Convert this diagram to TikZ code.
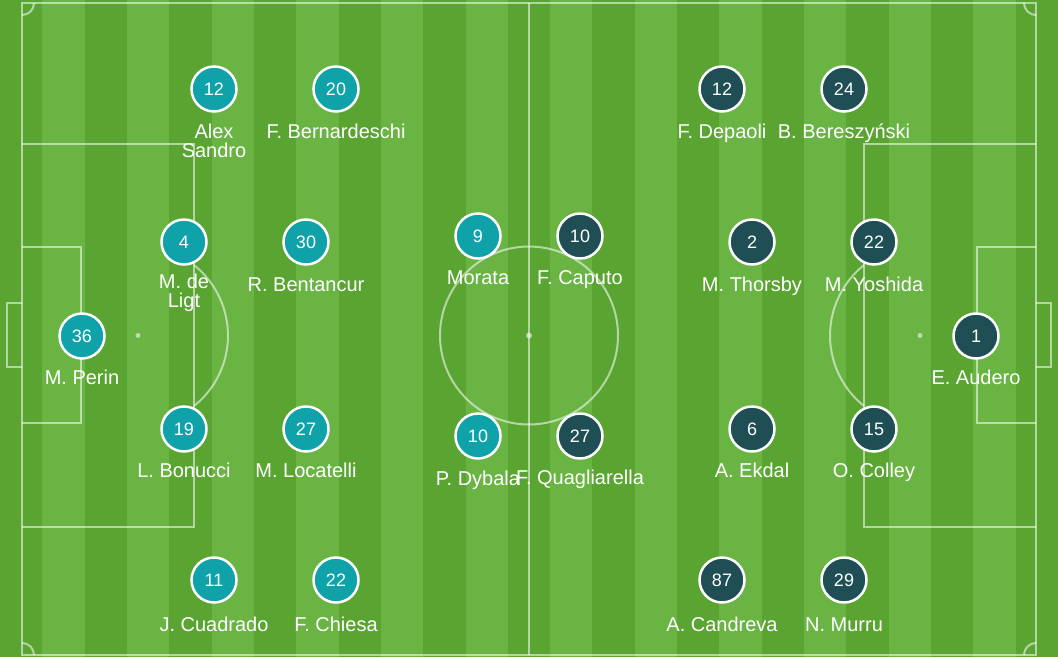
\documentclass[tikz,border=0pt]{standalone}
\usepackage{fontspec}
\setmainfont{Liberation Sans}
\definecolor{grassdark}{HTML}{5AA532}
\definecolor{grasslight}{HTML}{6AB443}
\definecolor{juvecol}{HTML}{0FA2A9}
\definecolor{sampcol}{HTML}{1F4F55}
\tikzset{
  pitchline/.style={draw=white, draw opacity=0.55, line width=2pt},
  spot/.style={fill=white, fill opacity=0.55},
  player/.style={circle, draw=white, line width=2.5pt, minimum size=45pt, inner sep=0pt,
    text=white, font=\fontsize{18}{18}\selectfont},
  juve/.style={player, fill=juvecol},
  samp/.style={player, fill=sampcol},
  pname/.style={text=white, align=center, inner sep=0pt, anchor=base, font=\fontsize{20}{19}\selectfont},
  pname2/.style={pname, anchor=center}
}
\begin{document}
\begin{tikzpicture}[x=1pt, y=-1pt]
				\useasboundingbox (0,0) rectangle (1058,657);

				% Grass stripes
				\fill[grassdark] (0,0) rectangle (1058,657);
				\foreach \i in {1,3,...,23} {
					\fill[grasslight] ({\i*42.32},0) rectangle ({(\i+1)*42.32},657);
				}

				% Outer lines and halfway line
				\draw[pitchline] (22,3) rectangle (1036,655);
				\draw[pitchline] (529,3) -- (529,655);
				\draw[pitchline] (529,335.5) circle[radius=89];
				\fill[spot] (529,335.5) circle[radius=3];

				% Corner arcs
				\draw[pitchline] (34,3) arc[start angle=0, end angle=90, radius=12];
				\draw[pitchline] (1024,3) arc[start angle=180, end angle=90, radius=12];
				\draw[pitchline] (34,655) arc[start angle=0, end angle=-90, radius=12];
				\draw[pitchline] (1024,655) arc[start angle=180, end angle=270, radius=12];

				% Left penalty area
				\draw[pitchline] (22,144) -- (194,144) -- (194,527) -- (22,527);
				\draw[pitchline] (22,247) -- (81,247) -- (81,423) -- (22,423);
				\draw[pitchline] (22,303) -- (7,303) -- (7,367) -- (22,367);
				\fill[spot] (138,335.5) circle[radius=2.5];
				\draw[pitchline] (194,265.1) arc[start angle=-51.5, end angle=51.5, radius=90];

				% Right penalty area
				\draw[pitchline] (1036,144) -- (864,144) -- (864,527) -- (1036,527);
				\draw[pitchline] (1036,247) -- (977,247) -- (977,423) -- (1036,423);
				\draw[pitchline] (1036,303) -- (1051,303) -- (1051,367) -- (1036,367);
				\fill[spot] (920,335.5) circle[radius=2.5];
				\draw[pitchline] (864,265.1) arc[start angle=231.5, end angle=128.5, radius=90];

				% Juventus
				\node[juve] (perin) at (82,336) {36};
				\node[pname] (perin-t) at (82,384) {M. Perin};
				\node[juve] (deligt) at (184,242) {4};
				\node[pname2] (deligt-t) at (184,293) {M. de\\Ligt};
				\node[juve] (bonucci) at (184,429) {19};
				\node[pname] (bonucci-t) at (184,477) {L. Bonucci};
				\node[juve] (bentancur) at (306,242) {30};
				\node[pname] (bentancur-t) at (306,291) {R. Bentancur};
				\node[juve] (locatelli) at (306,429) {27};
				\node[pname] (locatelli-t) at (306,477) {M. Locatelli};
				\node[juve] (sandro) at (214,89) {12};
				\node[pname2] (sandro-t) at (214,140.5) {Alex\\Sandro};
				\node[juve] (bernardeschi) at (336,89) {20};
				\node[pname] (bernardeschi-t) at (336,138) {F. Bernardeschi};
				\node[juve] (cuadrado) at (214,580) {11};
				\node[pname] (cuadrado-t) at (214,631) {J. Cuadrado};
				\node[juve] (chiesa) at (336,580) {22};
				\node[pname] (chiesa-t) at (336,631) {F. Chiesa};
				\node[juve] (morata) at (478,236) {9};
				\node[pname] (morata-t) at (478,284) {Morata};
				\node[juve] (dybala) at (478,436) {10};
				\node[pname] (dybala-t) at (478,485) {P. Dybala};

				% Sampdoria
				\node[samp] (audero) at (976,336) {1};
				\node[pname] (audero-t) at (976,384) {E. Audero};
				\node[samp] (yoshida) at (874,242) {22};
				\node[pname] (yoshida-t) at (874,291) {M. Yoshida};
				\node[samp] (colley) at (874,429) {15};
				\node[pname] (colley-t) at (874,477) {O. Colley};
				\node[samp] (thorsby) at (752,242) {2};
				\node[pname] (thorsby-t) at (752,291) {M. Thorsby};
				\node[samp] (ekdal) at (752,429) {6};
				\node[pname] (ekdal-t) at (752,477) {A. Ekdal};
				\node[samp] (depaoli) at (722,89) {12};
				\node[pname] (depaoli-t) at (722,138) {F. Depaoli};
				\node[samp] (bereszynski) at (844,89) {24};
				\node[pname] (bereszynski-t) at (844,138) {B. Bereszyński};
				\node[samp] (candreva) at (722,580) {87};
				\node[pname] (candreva-t) at (722,631) {A. Candreva};
				\node[samp] (murru) at (844,580) {29};
				\node[pname] (murru-t) at (844,631) {N. Murru};
				\node[samp] (caputo) at (580,236) {10};
				\node[pname] (caputo-t) at (580,284) {F. Caputo};
				\node[samp] (quagliarella) at (580,436) {27};
				\node[pname] (quagliarella-t) at (580,484) {F. Quagliarella};
\end{tikzpicture}
\end{document}
